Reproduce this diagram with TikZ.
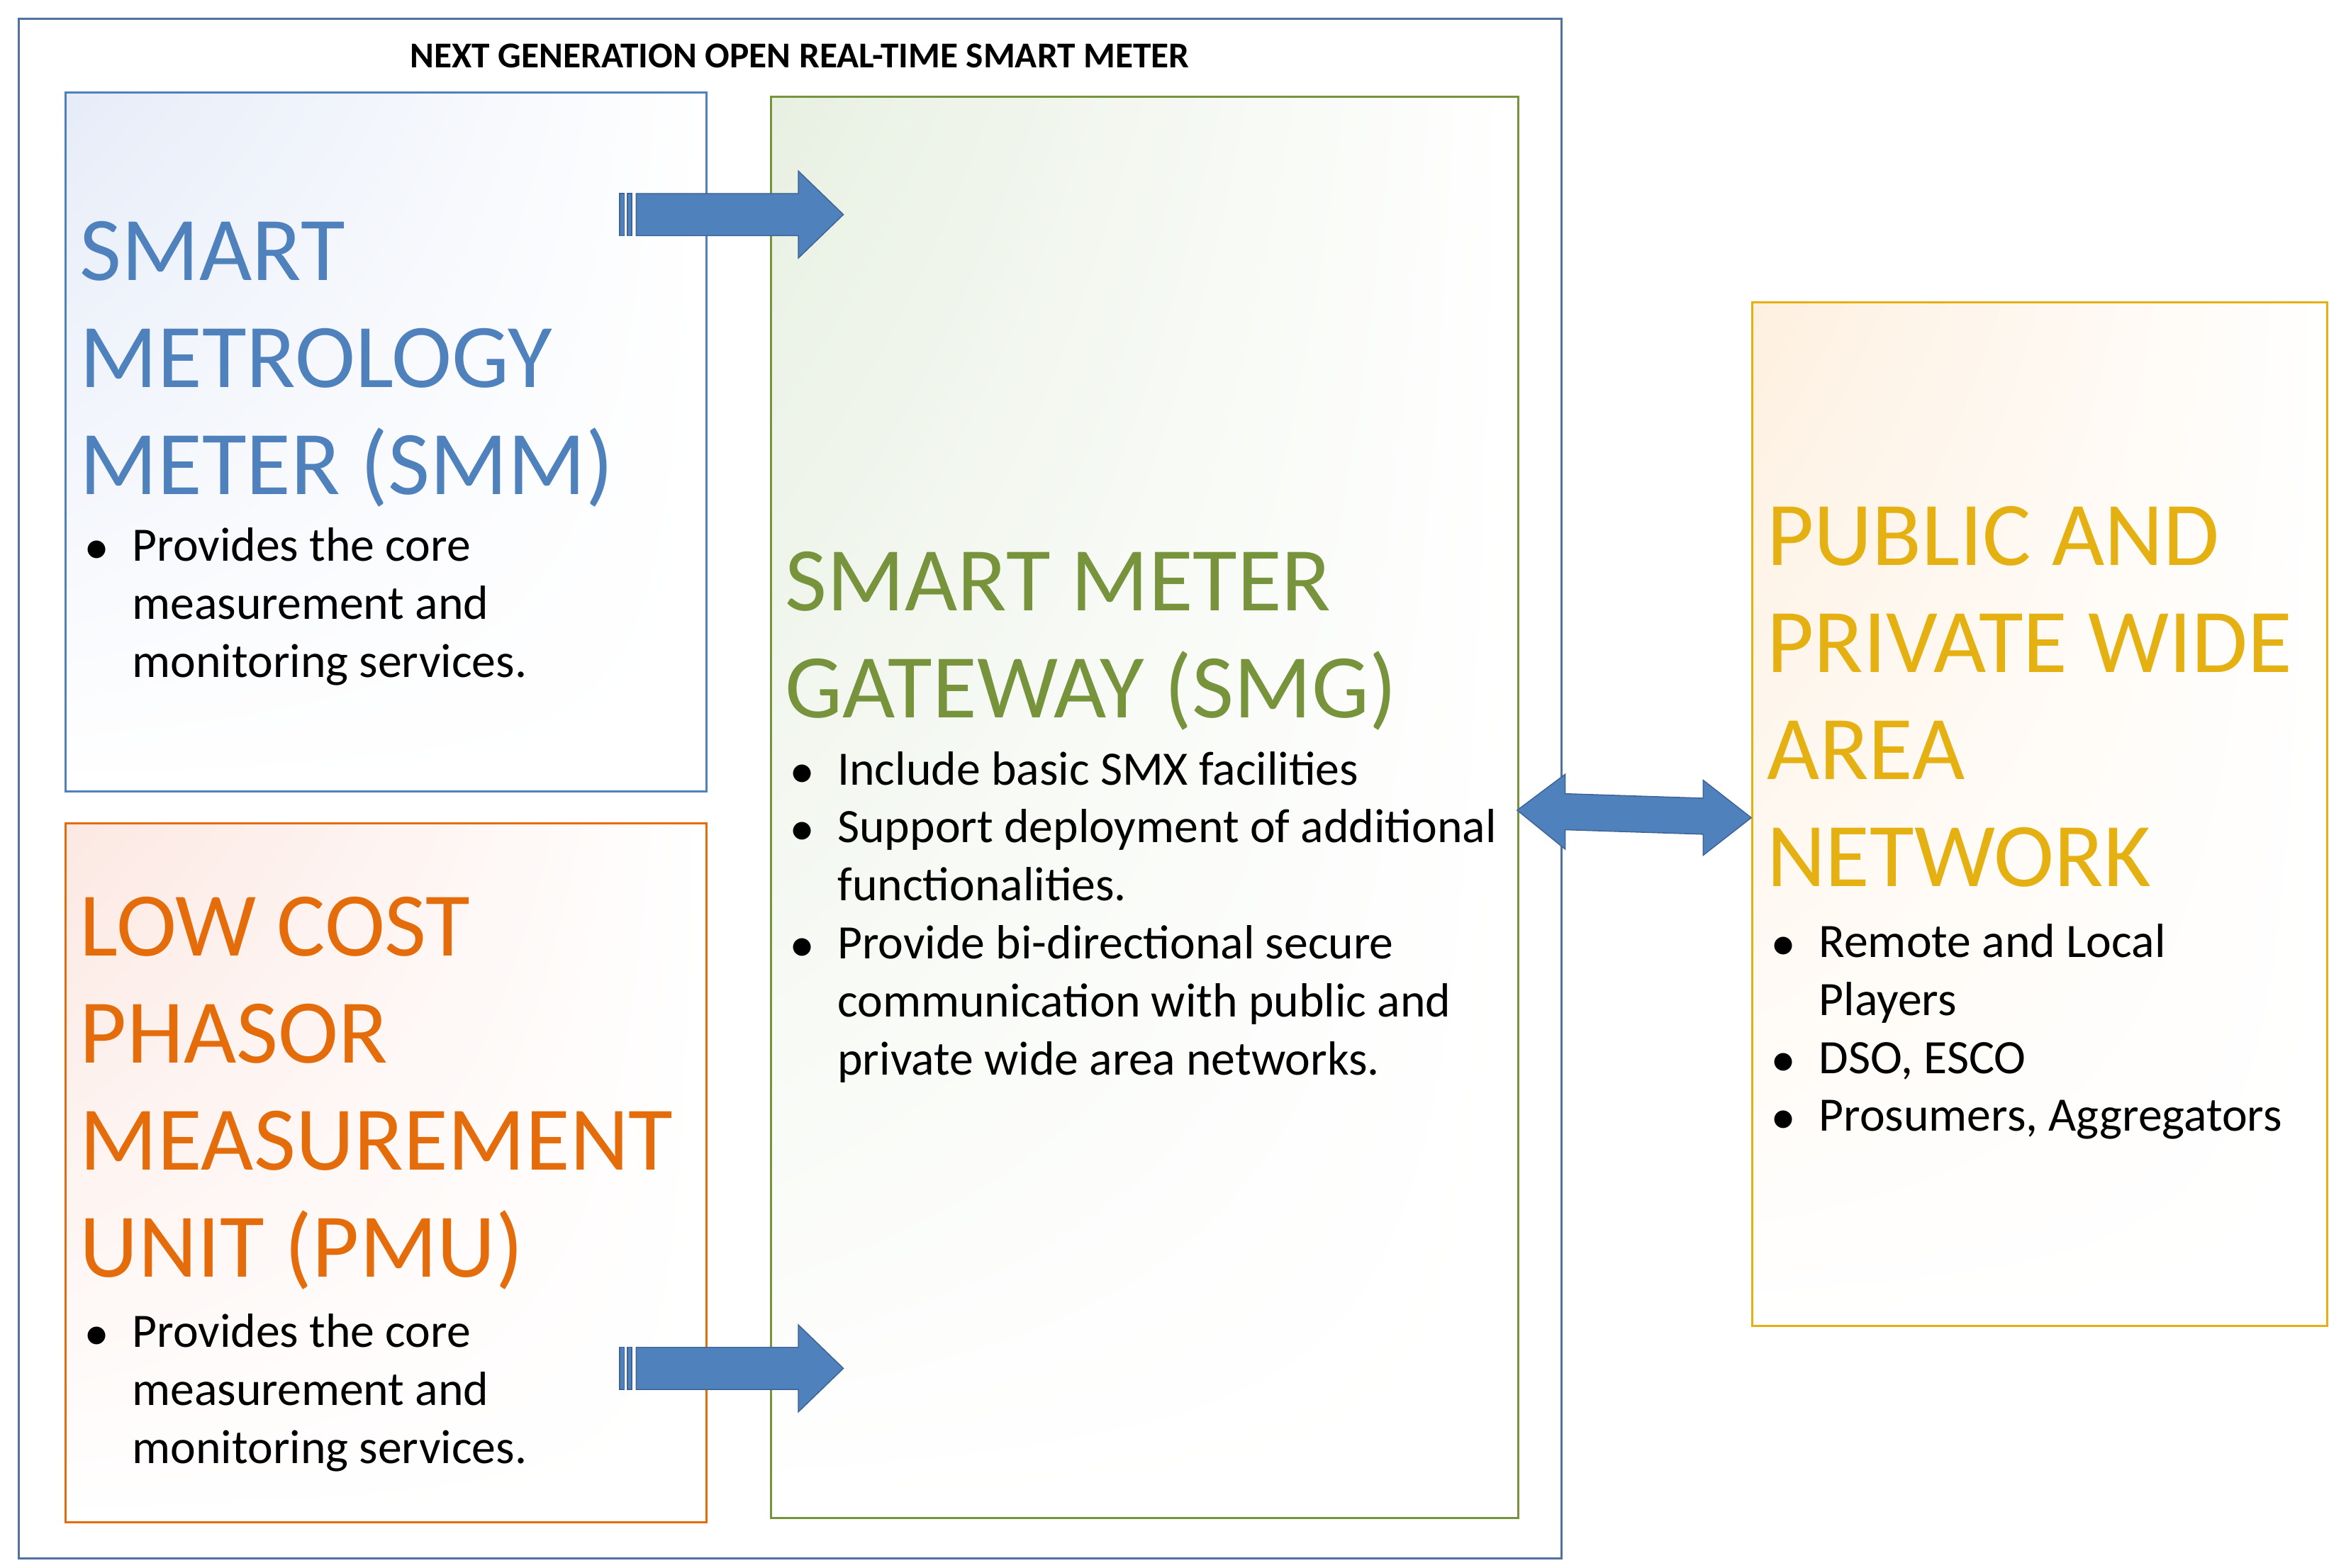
\documentclass[tikz,border=0pt]{standalone}
\usepackage{fontspec}
\setmainfont{Carlito}
\usetikzlibrary{shadings}
\definecolor{frameblue}{RGB}{79,114,160}
\definecolor{smmblue}{RGB}{79,129,189}
\definecolor{smmfill}{RGB}{230,236,248}
\definecolor{pmuorange}{RGB}{228,108,10}
\definecolor{pmufill}{RGB}{252,232,226}
\definecolor{smggreen}{RGB}{119,147,60}
\definecolor{smgfill}{RGB}{232,240,226}
\definecolor{wangold}{RGB}{229,176,18}
\definecolor{wanfill}{RGB}{254,240,224}
\definecolor{arrowfill}{RGB}{79,129,189}
\definecolor{arrowline}{RGB}{62,100,150}
\newcommand{\headfont}{\fontsize{34.5}{40.6}\selectfont}
\newcommand{\listfont}{\fontsize{18.2}{22}\selectfont}
\newcommand{\bul}{\makebox[19.8pt][l]{\hspace{2pt}$\bullet$}}
% striped block arrow, tip at the given point
\newcommand{\stripedarrow}[1]{%
  \begin{scope}[shift={#1}]
    \filldraw[arrowfill,draw=arrowline] (-149,-14) rectangle (-146,14);
    \filldraw[arrowfill,draw=arrowline] (-144,-14) rectangle (-141,14);
    \filldraw[arrowfill,draw=arrowline] (-138,-14) -- (-30,-14) -- (-30,-29) -- (0,0)
      -- (-30,29) -- (-30,14) -- (-138,14) -- cycle;
  \end{scope}}
\begin{document}
\begin{tikzpicture}[x=0.02cm,y=-0.02cm]
    \tikzstyle{box}=[draw,rectangle,anchor=north west,inner sep=0pt,line width=0.8pt]
    \tikzstyle{heading}=[anchor=base west,inner sep=0pt,font=\headfont]
    \tikzstyle{items}=[anchor=base west,inner sep=0pt,font=\listfont]
    \useasboundingbox (0,0) rectangle (1552,1045);
    % frame
    \node[box,draw=frameblue,minimum width=20.56cm,minimum height=20.52cm] (frame) at (12,12) {};
    \node[anchor=base,font=\bfseries\fontsize{13.8}{16}\selectfont] (title) at (533,45)
      {NEXT GENERATION OPEN REAL-TIME SMART METER};
    % boxes
    \node[box,draw=smmblue,upper left=smmfill,upper right=white,lower left=white,lower right=white,
      minimum width=8.54cm,minimum height=9.32cm] (smm) at (43,61) {};
    \node[box,draw=pmuorange,upper left=pmufill,upper right=white,lower left=white,lower right=white,
      minimum width=8.54cm,minimum height=9.32cm] (pmu) at (43,548) {};
    \node[box,draw=smggreen,upper left=smgfill,upper right=white,lower left=white,lower right=white,
      minimum width=9.96cm,minimum height=18.94cm] (smg) at (513,64) {};
    \node[box,draw=wangold,upper left=wanfill,upper right=white,lower left=white,lower right=white,
      minimum width=7.66cm,minimum height=13.64cm] (wan) at (1167,201) {};
    % texts
    \node[heading,text=smmblue] (smm head) at (53,187)
      {\begin{tabular}[t]{@{}l@{}}SMART\\METROLOGY\\METER (SMM)\end{tabular}};
    \node[items] (smm list) at (53,374)
      {\begin{tabular}[t]{@{}l@{}l@{}}\bul&Provides the core\\&measurement and\\&monitoring services.\end{tabular}};
    \node[heading,text=pmuorange] (pmu head) at (53,637)
      {\begin{tabular}[t]{@{}l@{}}LOW COST\\PHASOR\\MEASUREMENT\\UNIT (PMU)\end{tabular}};
    \node[items] (pmu list) at (53,898)
      {\begin{tabular}[t]{@{}l@{}l@{}}\bul&Provides the core\\&measurement and\\&monitoring services.\end{tabular}};
    \node[heading,text=smggreen] (smg head) at (523,407)
      {\begin{tabular}[t]{@{}l@{}}SMART METER\\GATEWAY (SMG)\end{tabular}};
    \node[items] (smg list) at (523,523)
      {\begin{tabular}[t]{@{}l@{}l@{}}\bul&Include basic SMX facilities\\
        \bul&Support deployment of additional\\&functionalities.\\
        \bul&Provide bi-directional secure\\&communication with public and\\&private wide area networks.\end{tabular}};
    \node[heading,text=wangold] (wan head) at (1177,377)
      {\begin{tabular}[t]{@{}l@{}}PUBLIC AND\\PRIVATE WIDE\\AREA\\NETWORK\end{tabular}};
    \node[items] (wan list) at (1177,638)
      {\begin{tabular}[t]{@{}l@{}l@{}}\bul&Remote and Local\\&Players\\\bul&DSO, ESCO\\\bul&Prosumers, Aggregators\end{tabular}};
    % arrows
    \stripedarrow{(562,143)}
    \stripedarrow{(562,912)}
    \filldraw[arrowfill,draw=arrowline] (1011,540) -- (1043,516) -- (1043,529) -- (1135,532)
      -- (1135,520) -- (1167,545) -- (1135,570) -- (1135,556) -- (1043,553) -- (1043,566) -- cycle;
\end{tikzpicture}
\end{document}
